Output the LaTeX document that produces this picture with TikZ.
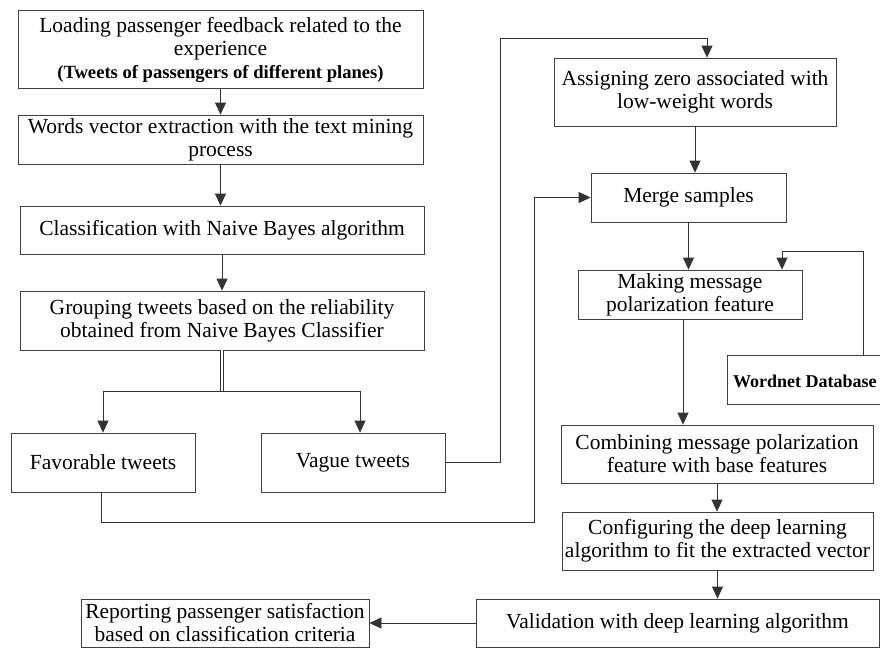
\documentclass[tikz,border=0pt]{standalone}
\usepackage{fontspec}
\setmainfont{Liberation Serif}
\usepackage{tikz}
\usetikzlibrary{arrows.meta}
\usetikzlibrary{calc}

\tikzset{
  box/.style={draw=black!75,line width=0.8pt,align=center,inner sep=0pt,font=\fontsize{21.5}{23}\selectfont},
  boldtxt/.style={font=\fontsize{18}{21}\selectfont\bfseries},
  wire/.style={draw=black!80,line width=0.8pt},
  arr/.style={wire,-{Triangle[width=11pt,length=12pt]}}
}

\begin{document}
\begin{tikzpicture}[x=1pt,y=-1pt]
  \useasboundingbox (0,0) rectangle (880,648);
  \clip (0,0) rectangle (880,648);

  \node[box,minimum width=405pt,minimum height=78pt] (load) at (220.5,49.5) {Loading passenger feedback related to the\\experience\\{\fontsize{18.6}{21}\selectfont\bfseries (Tweets of passengers of different planes)}};
  \node[box,minimum width=405pt,minimum height=49pt] (words) at (220.5,139.5) {Words vector extraction with the text mining\\process};
  \node[box,minimum width=404pt,minimum height=48pt] (classif) at (222,230) {Classification with Naive Bayes algorithm};
  \node[box,minimum width=404pt,minimum height=59pt] (group) at (222,320.5) {Grouping tweets based on the reliability\\obtained from Naive Bayes Classifier};

  \node[box,minimum width=184pt,minimum height=59pt] (fav) at (103,462.5) {Favorable tweets};
  \node[box,minimum width=184pt,minimum height=59pt] (vague) at (353,462.5) {Vague tweets};

  \node[box,minimum width=282pt,minimum height=68pt] (assign) at (695,92) {Assigning zero associated with\\low-weight words};
  \node[box,minimum width=195pt,minimum height=49pt] (merge) at (688.5,197.5) {Merge samples};
  \node[box,minimum width=224pt,minimum height=49pt] (making) at (690,294.5) {Making message\\polarization feature};
  \node[box,minimum width=168pt,minimum height=49pt] (wordnet) at (811,379.5) {};
  \node[boldtxt,anchor=west,inner sep=0pt] (wordtxt) at (733,381) {Wordnet Database};
  \node[box,minimum width=312pt,minimum height=58pt] (combine) at (717,454) {Combining message polarization\\feature with base features};
  \node[box,minimum width=311pt,minimum height=58pt] (config) at (717.5,541) {Configuring the deep learning\\algorithm to fit the extracted vector};
  \node[box,minimum width=403pt,minimum height=48pt] (valid) at (677.5,623) {Validation with deep learning algorithm};
  \node[box,minimum width=288pt,minimum height=48pt] (report) at (225,623) {Reporting passenger satisfaction\\based on classification criteria};

  \foreach \a/\b in {load/words,words/classif,classif/group,assign/merge,merge/making,combine/config,config/valid}
    \draw[arr] (\a.south) -- (\a.south |- \b.north);

  \path (group.south) ++(0,41) coordinate (split);
  \draw[wire,double,double distance=2.2pt] (group.south) -- (split);
  \draw[arr] (split) -| (fav.north);
  \draw[arr] (split) -| ([xshift=7pt]vague.north);

  \coordinate (vup) at (500,38);
  \draw[arr] (vague.east) -| (vup) -| ([xshift=12pt]assign.north);

  \coordinate (fdown) at (534,522);
  \draw[arr] ([xshift=-2pt]fav.south) |- (fdown) |- (merge.west);

  \coordinate (wup) at (863,251);
  \draw[arr] (wordnet.north -| wup) -- (wup) -| ([xshift=92pt]making.north);

  \draw[arr] ([xshift=-7pt]making.south) -- ([xshift=-7pt]making.south |- combine.north);
  \draw[arr] (valid.west) -- (report.east);
\end{tikzpicture}
\end{document}
